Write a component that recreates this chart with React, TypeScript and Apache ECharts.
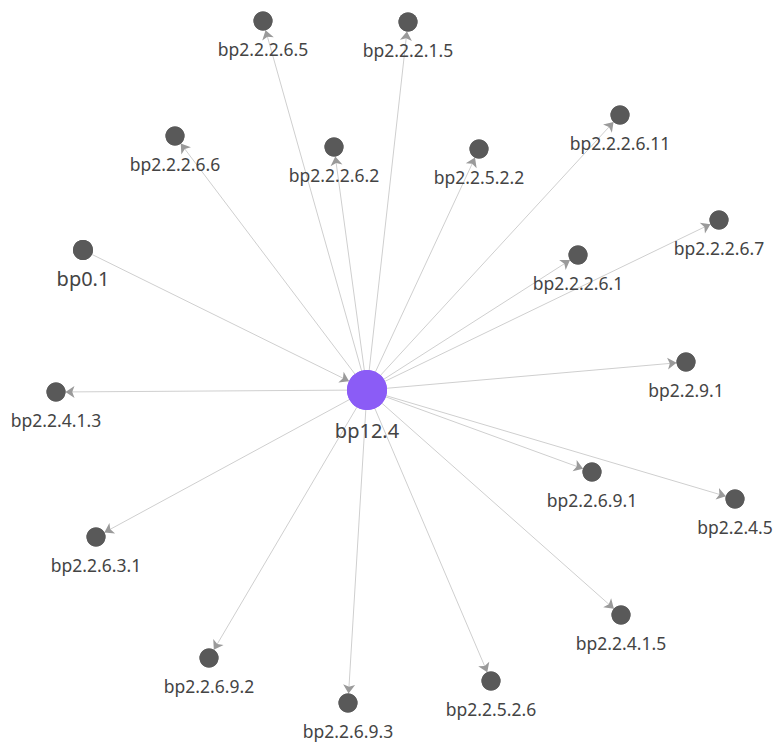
import React, { useEffect, useRef } from "react";
import * as echarts from "echarts";

const nodeNames = [
  "bp12.4", "bp0.1", "bp2.2.4.1.3", "bp2.2.6.3.1", "bp2.2.6.9.2", "bp2.2.6.9.3",
  "bp2.2.5.2.6", "bp2.2.4.1.5", "bp2.2.4.5", "bp2.2.6.9.1", "bp2.2.9.1",
  "bp2.2.2.6.7", "bp2.2.2.6.1", "bp2.2.2.6.11", "bp2.2.5.2.2", "bp2.2.2.6.2",
  "bp2.2.2.6.6", "bp2.2.2.6.5", "bp2.2.2.1.5",
];
const nodeX = [367, 83, 56, 96, 209, 348, 491, 621, 735, 592, 686, 719, 578, 620, 479, 334, 175, 263, 408];
const nodeY = [390, 250, 392, 537, 658, 703, 681, 615, 499, 472, 362, 220, 255, 115, 149, 147, 136, 21, 22];
const edgeSources = [
  "bp0.1", "bp12.4", "bp12.4", "bp12.4", "bp12.4", "bp12.4", "bp12.4", "bp12.4", "bp12.4",
  "bp12.4", "bp12.4", "bp12.4", "bp12.4", "bp12.4", "bp12.4", "bp12.4", "bp12.4", "bp12.4",
];
const edgeTargets = [
  "bp12.4", "bp2.2.4.1.3", "bp2.2.6.3.1", "bp2.2.6.9.2", "bp2.2.6.9.3", "bp2.2.5.2.6",
  "bp2.2.4.1.5", "bp2.2.4.5", "bp2.2.6.9.1", "bp2.2.9.1", "bp2.2.2.6.7", "bp2.2.2.6.1",
  "bp2.2.2.6.11", "bp2.2.5.2.2", "bp2.2.2.6.2", "bp2.2.2.6.6", "bp2.2.2.6.5", "bp2.2.2.1.5",
];

export default function App() {
  const ref = useRef<HTMLDivElement>(null);
  useEffect(() => {
    document.body.style.margin = "0";
    const chart = echarts.init(ref.current!, null, { renderer: "svg" });
    const font = "'Noto Sans', 'Open Sans', sans-serif";
    const minX = Math.min(...nodeX), maxX = Math.max(...nodeX);
    const minY = Math.min(...nodeY), maxY = Math.max(...nodeY);
    const makeData = (withLabel: boolean) =>
      nodeNames.map((name, i) => {
        const center = name === "bp12.4";
        const big = center || name === "bp0.1";
        return {
          name,
          x: nodeX[i],
          y: nodeY[i],
          symbolSize: center ? 40 : name === "bp0.1" ? 20 : 19,
          itemStyle: { color: center ? "#8b5cf6" : "#595959" },
          label: {
            show: withLabel,
            position: "bottom",
            distance: center ? 10 : name === "bp0.1" ? 8 : 9,
            fontSize: big ? 20 : 17.5,
            color: "#444",
            fontFamily: font,
          },
        };
      });
    const links = edgeSources.map((s, i) => ({ source: s, target: edgeTargets[i] }));
    const base = {
      type: "graph",
      layout: "none",
      roam: false,
      left: minX,
      top: minY,
      width: maxX - minX,
      height: maxY - minY,
      links,
      emphasis: { disabled: true },
      silent: true,
    };
    chart.setOption({
      animation: false,
      backgroundColor: "#ffffff",
      series: [
        {
          ...base,
          data: makeData(false),
          edgeSymbol: ["none", "none"],
          lineStyle: { color: "#cfcfcf", width: 1, opacity: 1, curveness: 0 },
        },
        {
          ...base,
          data: makeData(true),
          edgeSymbol: ["none", "arrow"],
          edgeSymbolSize: 9,
          lineStyle: { color: "#9a9a9a", width: 0, opacity: 1, curveness: 0 },
        },
      ],
    });
    return () => chart.dispose();
  }, []);
  return <div ref={ref} style={{ width: 775, height: 743 }} />;
}
